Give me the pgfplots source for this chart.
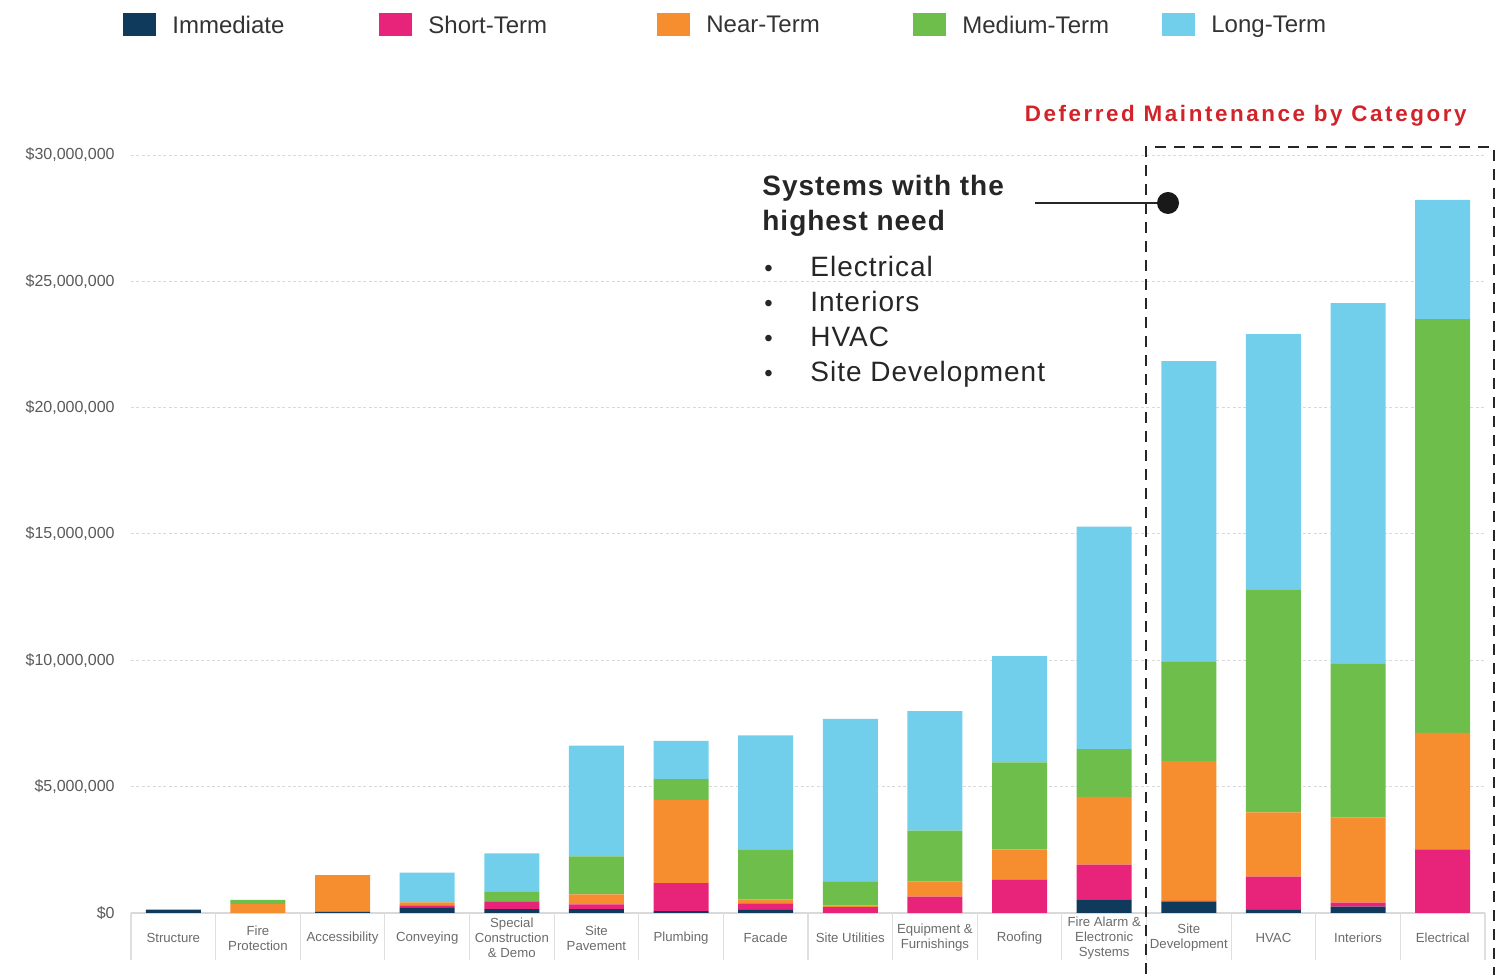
\documentclass[border=0pt]{standalone}
\usepackage{pgfplots}
\pgfplotsset{compat=1.18}
\usepackage{pgfplotstable}
\usepackage{fontspec}
\setmainfont{Liberation Sans}
\newfontfamily\titlefont[LetterSpace=11.5]{Liberation Sans}
\newfontfamily\annofont[LetterSpace=3.5]{Liberation Sans}
\definecolor{cImm}{HTML}{0F3A5C}
\definecolor{cShort}{HTML}{E8237A}
\definecolor{cNear}{HTML}{F68D2E}
\definecolor{cMed}{HTML}{6DBE4B}
\definecolor{cLong}{HTML}{71CFEB}
\definecolor{cTitle}{HTML}{D2232A}
% values in millions of dollars
\pgfplotstableread{
x imm short near med long
0  0.13 0    0    0     0
1  0    0    0.35 0.17  0
2  0.05 0    1.45 0     0
3  0.20 0.10 0.12 0     1.18
4  0.15 0.31 0    0.40  1.50
5  0.15 0.19 0.40 1.50  4.38
6  0.07 1.11 3.29 0.83  1.51
7  0.12 0.26 0.16 1.98  4.51
8  0    0.23 0.07 0.93  6.45
9  0    0.65 0.59 2.02  4.73
10 0    1.31 1.21 3.44  4.21
11 0.54 1.37 2.69 1.89  8.80
12 0.45 0.03 5.53 3.93  11.90
13 0.12 1.32 2.54 8.83  10.10
14 0.25 0.16 3.36 6.11  14.26
15 0    2.52 4.61 16.37 4.72
}\datatable
\begin{document}
\begin{tikzpicture}
\useasboundingbox (-65.5pt,-31pt) rectangle (687.5pt,456.5pt);
\begin{axis}[
  at={(0pt,0pt)}, anchor=south west,
  scale only axis, width=677pt, height=379pt,
  ybar stacked, bar width=27.5pt,
  xmin=-0.5, xmax=15.5, ymin=0, ymax=30,
  enlargelimits=false,
  axis x line*=bottom, axis y line*=left,
  x axis line style={draw=gray!30, line width=0.6pt},
  y axis line style={draw=none},
  xtick={0,...,15},
  xticklabels={Structure,{Fire\\Protection},Accessibility,Conveying,{Special\\Construction\\\& Demo},{Site\\Pavement},Plumbing,Facade,Site Utilities,{Equipment \&\\Furnishings},Roofing,{Fire Alarm \&\\Electronic\\Systems},{Site\\Development},HVAC,Interiors,Electrical},
  xticklabel style={anchor=center, yshift=-12.5pt, align=center, text=black!58, font=\fontsize{6.6}{7.5}\selectfont},
  xtick style={draw=none}, ytick style={draw=none},
  ytick={0,5,10,15,20,25,30},
  yticklabels={\$0,{\$5,000,000},{\$10,000,000},{\$15,000,000},{\$20,000,000},{\$25,000,000},{\$30,000,000}},
  yticklabel style={font=\fontsize{8}{9}\selectfont, text=black!65, inner xsep=0pt, xshift=-8pt},
  ymajorgrids,
  grid style={gray!30, dash pattern=on 1.5pt off 1.2pt, line width=0.5pt},
  extra x ticks={-0.5,0.5,...,15.5}, extra x tick labels={},
  extra x tick style={grid=none, tick align=outside, major tick length=23.5pt,
     xtick style={draw=gray!25, line width=0.6pt}, tick style={draw=gray!25, line width=0.6pt}},
  legend columns=5,
  legend style={at={(axis description cs:-0.0059,1.1705)}, anchor=west, draw=none, fill=none, inner sep=0pt,
    font=\fontsize{12}{14}\selectfont, text=black!80,
    nodes={inner xsep=0pt, inner ysep=1pt},
    /tikz/every odd column/.append style={column sep=8pt},
    /tikz/every even column/.append style={column sep=0pt}},
  legend image code/.code={\fill[#1] (0pt,-5pt) rectangle (16.5pt,6.5pt);},
]
\addplot[fill=cImm, draw=none] table[x=x, y=imm] {\datatable};
\addlegendentry{\makebox[103.5pt][l]{Immediate}}
\addplot[fill=cShort, draw=none] table[x=x, y=short] {\datatable};
\addlegendentry{\makebox[114.5pt][l]{Short-Term}}
\addplot[fill=cNear, draw=none] table[x=x, y=near] {\datatable};
\addlegendentry{\makebox[103.5pt][l]{Near-Term}}
\addplot[fill=cMed, draw=none] table[x=x, y=med] {\datatable};
\addlegendentry{\makebox[100pt][l]{Medium-Term}}
\addplot[fill=cLong, draw=none] table[x=x, y=long] {\datatable};
\addlegendentry{\makebox[70pt][l]{Long-Term}}
\end{axis}
% title
\node[anchor=base east, inner sep=0pt, text=cTitle, font=\titlefont\bfseries\fontsize{11.2}{13}\selectfont] at (668pt,395.5pt) {Deferred Maintenance by Category};
% annotation
\node[anchor=base west, inner sep=0pt, text=black!85, font=\annofont\bfseries\fontsize{14}{16}\selectfont] at (315.5pt,358.5pt) {Systems with the};
\node[anchor=base west, inner sep=0pt, text=black!85, font=\annofont\bfseries\fontsize{14}{16}\selectfont] at (315.5pt,341pt) {highest need};
\foreach \t/\yy in {Electrical/318, Interiors/300.7, HVAC/283.2, Site Development/265.7}{
  \node[anchor=base west, inner sep=0pt, text=black!85, font=\fontsize{12}{14}\selectfont] at (316.5pt,\yy pt) {\textbullet};
  \node[anchor=base west, inner sep=0pt, text=black!85, font=\annofont\fontsize{14}{16}\selectfont] at (339.5pt,\yy pt) {\t};
}
\draw[line width=1pt, black!85] (452pt,355pt) -- (514.5pt,355pt);
\fill[black!90] (518.5pt,355pt) circle (5.5pt);
% dashed box
\draw[line width=1.4pt, dash pattern=on 5.5pt off 4pt, black!85] (507.5pt,-40pt) -- (507.5pt,383pt) -- (681.5pt,383pt) -- (681.5pt,-40pt);
\end{tikzpicture}
\end{document}
